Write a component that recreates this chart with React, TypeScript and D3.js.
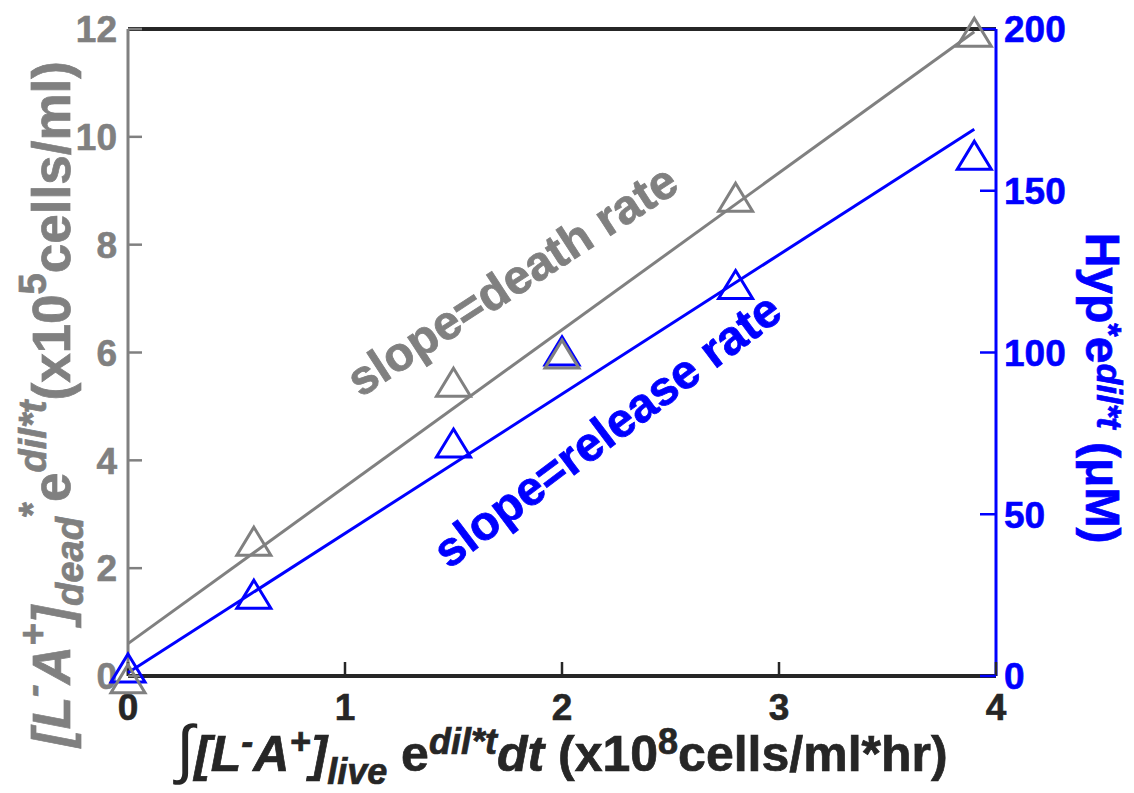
import React from 'react';
import * as d3 from 'd3';

// ---- data ----
const xDead = [0, 0.58, 1.5, 2.0, 2.8, 3.9];
const deadValues = [-0.05, 2.5, 5.45, 5.97, 8.88, 11.94];
const xHyp = [0, 0.58, 1.5, 2.0, 2.8, 3.9];
const hypValues = [2.5, 25.3, 72, 100.5, 121, 161];
const fitX = [0, 3.9];
const deadFit = [0.6, 11.95];
const hypFit = [1, 169];
const xTicks = [0, 1, 2, 3, 4];
const leftTicks = [0, 2, 4, 6, 8, 10, 12];
const rightTicks = [0, 50, 100, 150, 200];

const GRAY = '#808080';
const BLUE = '#0000ff';
const DARK = '#262626';
const FONT = '"Liberation Sans", Arial, Helvetica, sans-serif';

type Seg = [string, string];

function Rich({ x, y, rotate = 0, size, fill, segs, anchor = 'middle', sup = 0.42, sub = 0.25 }:
  { x: number; y: number; rotate?: number; size: number; fill: string; segs: Seg[]; anchor?: string; sup?: number; sub?: number }) {
  let cur = 0;
  const spans = segs.map(([t, k], i) => {
    const isSup = k.startsWith('sup');
    const isSub = k.startsWith('sub');
    const target = isSup ? -sup * size : isSub ? sub * size : 0;
    const dy = target - cur;
    cur = target;
    const italic = k.endsWith('i');
    let fs: number = isSup || isSub ? size * 0.72 : size;
    if (k === 'int') fs = size * 1.3;
    return (
      <tspan key={i} dy={dy} fontSize={fs} fontStyle={italic ? 'italic' : 'normal'}
        fontWeight={k === 'int' ? 'normal' : 'bold'} strokeWidth={k === 'int' ? 0 : 0.7}>{t}</tspan>
    );
  });
  return (
    <text transform={`translate(${x},${y}) rotate(${rotate})`} fill={fill} stroke={fill} fontFamily={FONT}
      fontSize={size} fontWeight="bold" textAnchor={anchor as any}>{spans}</text>
  );
}

export default function App() {
  const W = 1134, H = 793;
  const L = 128, R = 996, T = 29, B = 676;
  const x = d3.scaleLinear().domain([0, 4]).range([L, R]);
  const yL = d3.scaleLinear().domain([0, 12]).range([B, T]);
  const yR = d3.scaleLinear().domain([0, 200]).range([B, T]);

  const deadLine = d3.line<number>().x((d) => x(fitX[d])).y((d) => yL(deadFit[d]))([0, 1]) || '';
  const hypLine = d3.line<number>().x((d) => x(fitX[d])).y((d) => yR(hypFit[d]))([0, 1]) || '';

  const tw = 34, th = 28;
  const tri = (cx: number, cy: number) => {
    const p = d3.path();
    p.moveTo(cx, cy - th / 2);
    p.lineTo(cx + tw / 2, cy + th / 2);
    p.lineTo(cx - tw / 2, cy + th / 2);
    p.closePath();
    return p.toString();
  };

  const tick = 14;
  const TS = 37;

  return (
    <svg width={W} height={H} style={{ position: 'absolute', left: 0, top: 0, background: '#fff' }}>
      <rect width={W} height={H} fill="#fff" />
      {/* axes box */}
      <line x1={L} x2={R} y1={T} y2={T} stroke={DARK} strokeWidth={4} />
      <line x1={L} x2={R} y1={B} y2={B} stroke={DARK} strokeWidth={4} />
      <line x1={L} x2={L} y1={T} y2={B} stroke={GRAY} strokeWidth={3} />
      <line x1={R} x2={R} y1={T} y2={B} stroke={BLUE} strokeWidth={3} />

      {/* ticks */}
      {xTicks.map((v) => (
        <g key={'x' + v}>
          <line x1={x(v)} x2={x(v)} y1={B} y2={B - tick} stroke={DARK} strokeWidth={2.5} />
          <text x={x(v)} y={720} textAnchor="middle" fontFamily={FONT} fontWeight="bold" fontSize={TS}
            fill={DARK} stroke={DARK} strokeWidth={0.6}>{v}</text>
        </g>
      ))}
      {leftTicks.map((v) => (
        <g key={'l' + v}>
          <line x1={L} x2={L + tick} y1={yL(v)} y2={yL(v)} stroke={GRAY} strokeWidth={2.5} />
          <text x={117} y={yL(v)} dy="0.36em" textAnchor="end" fontFamily={FONT} fontWeight="bold" fontSize={TS}
            fill={GRAY} stroke={GRAY} strokeWidth={0.6}>{v}</text>
        </g>
      ))}
      {rightTicks.map((v) => (
        <g key={'r' + v}>
          <line x1={R} x2={R - tick - 2} y1={yR(v)} y2={yR(v)} stroke={BLUE} strokeWidth={2.5} />
          <text x={1004} y={yR(v)} dy="0.36em" textAnchor="start" fontFamily={FONT} fontWeight="bold" fontSize={TS}
            fill={BLUE} stroke={BLUE} strokeWidth={0.6}>{v}</text>
        </g>
      ))}

      {/* fit lines */}
      <path d={deadLine} stroke={GRAY} strokeWidth={3} fill="none" />
      <path d={hypLine} stroke={BLUE} strokeWidth={3} fill="none" />

      {/* markers */}
      {xHyp.map((v, i) => (
        <path key={'h' + i} d={tri(x(v), yR(hypValues[i]))} fill="none" stroke={BLUE} strokeWidth={3} />
      ))}
      {xDead.map((v, i) => (
        <path key={'d' + i} d={tri(x(v), yL(deadValues[i]))} fill="none" stroke={GRAY} strokeWidth={3} />
      ))}

      {/* annotations */}
      <text transform={`translate(512,280) rotate(-33)`} textAnchor="middle" dominantBaseline="central"
        fontFamily={FONT} fontWeight="bold" fontSize={48} fill={GRAY} stroke={GRAY} strokeWidth={0.8}>slope=death rate</text>
      <text transform={`translate(607,430) rotate(-37)`} textAnchor="middle" dominantBaseline="central"
        fontFamily={FONT} fontWeight="bold" fontSize={48} fill={BLUE} stroke={BLUE} strokeWidth={0.8}>slope=release rate</text>

      {/* axis titles */}
      <Rich x={562} y={771} size={50} sup={0.34} fill={DARK} segs={[
        ['∫', 'int'], ['[L', 'i'], ['-', 'supi'], ['A', 'i'], ['+', 'supi'], [']', 'i'], ['live', 'subi'],
        [' e', 'n'], ['dil*t', 'supi'], ['dt', 'i'], [' (x10', 'n'], ['8', 'sup'], ['cells/ml*hr)', 'n'],
      ]} />
      <Rich x={70} y={404} rotate={-90} size={53} sup={0.45} fill={GRAY} segs={[
        ['[L', 'i'], ['-', 'supi'], ['A', 'i'], ['+', 'supi'], [']', 'i'], ['dead', 'subi'], ['*', 'sup'],
        ['e', 'n'], ['dil*t', 'supi'], ['(x10', 'n'], ['5', 'sup'], ['cells/ml)', 'n'],
      ]} />
      <Rich x={1086} y={388} rotate={90} size={48} sup={0.22} fill={BLUE} segs={[
        ['Hyp', 'n'], ['*', 'sup'], ['e', 'n'], ['dil*t', 'supi'], [' (μM)', 'n'],
      ]} />
    </svg>
  );
}
